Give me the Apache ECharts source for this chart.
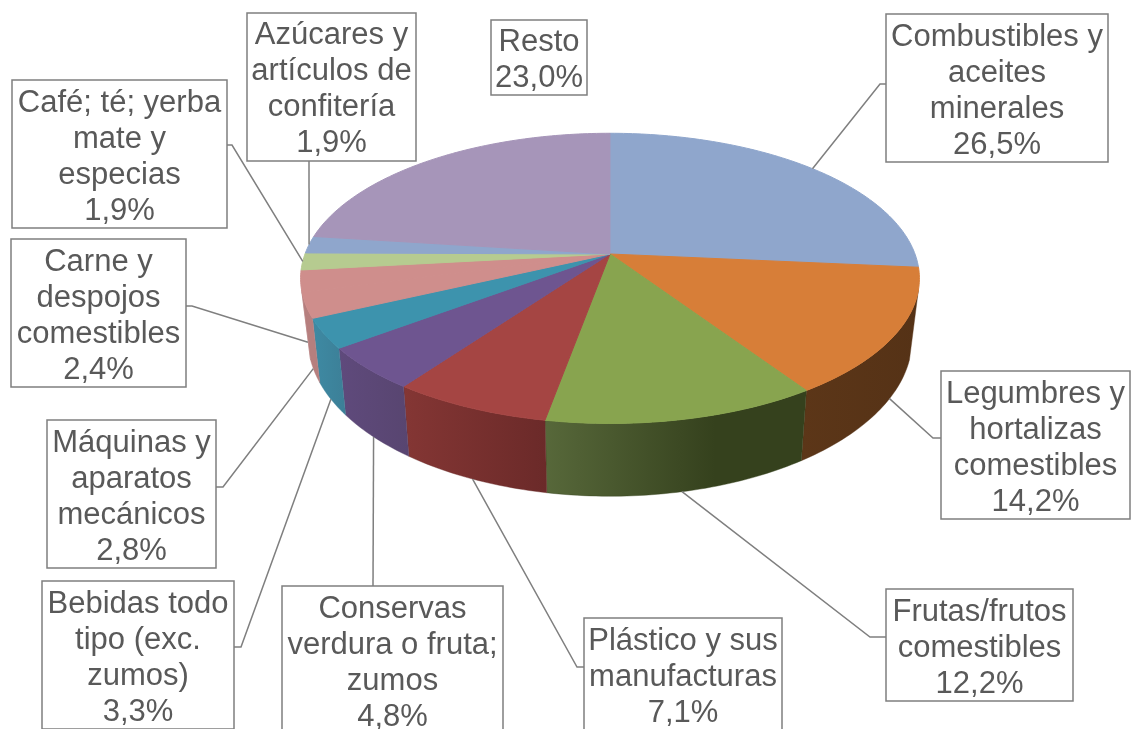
<!DOCTYPE html>
<html>
<head>
<meta charset="utf-8">
<title>Exportaciones</title>
<script src="https://cdn.jsdelivr.net/npm/echarts@6/dist/echarts.min.js"></script>
<style>
  html, body { margin: 0; padding: 0; background: #fff; overflow: hidden; }
  #box { width: 1131px; height: 729px; }
</style>
</head>
<body>
<div id="box"></div>
<script>
// datos: porcentaje por capitulo, en sentido horario desde las 12
const categories = [
  'Combustibles y\naceites\nminerales',
  'Legumbres y\nhortalizas\ncomestibles',
  'Frutas/frutos\ncomestibles',
  'Plástico y sus\nmanufacturas',
  'Conservas\nverdura o fruta;\nzumos',
  'Bebidas todo\ntipo (exc.\nzumos)',
  'Máquinas y\naparatos\nmecánicos',
  'Carne y\ndespojos\ncomestibles',
  'Café; té; yerba\nmate y\nespecias',
  'Azúcares y\nartículos de\nconfitería',
  'Resto'
];
const values = [26.5, 14.2, 12.2, 7.1, 4.8, 3.3, 2.8, 2.4, 1.9, 1.9, 23.0];

// colores
const topColors = ['#8fa6cc', '#d77e38', '#88a44f', '#a54543', '#6e5590', '#3d93ad',
  '#cf8e8c', '#cf8e8c', '#b6cb90', '#8fa6cc', '#a695b9'];
const wallColors = [
  ['#5f7396', '#5f7396'], ['#5c3618', '#553216'], ['#57683a', '#35411d'], ['#843634', '#6b2a29'],
  ['#5f4a7c', '#584570'], ['#3e8aa3', '#3c7f97'], ['#b67f7e', '#b67f7e'], ['#b67f7e', '#b67f7e'],
  ['#8a9c6c', '#8a9c6c'], ['#6a7d9c', '#6a7d9c'], ['#7a6c8c', '#7a6c8c']
];

// cajas de etiquetas [x, y, ancho, alto]
const labelBoxes = [
  [886, 14, 222, 148], [941, 371, 189, 148], [886, 589, 187, 112], [584, 618, 198, 112],
  [282, 586, 221, 148], [42, 581, 192, 148], [47, 420, 169, 148], [11, 239, 175, 148],
  [12, 80, 215, 148], [247, 13, 169, 148], [491, 20, 96, 75]
];
const textOffsets = [3.5, 3.5, 3.5, 3.5, 3.5, 3.5, 3.5, 3.5, 3, 2, 2];
// guia: punto de quiebre [x, y], salida de la caja [x, y] y plano donde termina
const leaderElbows = [
  [880, 84], [933, 438], [870, 637], [577, 667], [373, 586], [241, 647],
  [223, 487], [192, 306], [232, 145], [309, 160], null
];
const leaderStarts = [
  [886, 84], [941, 438], [886, 637], [584, 667], [373, 586], [234, 647],
  [216, 487], [186, 306], [227, 145], [309, 160], null
];
const leaderPlanes = ['top', 'bottom', 'bottom', 'bottom', 'bottom', 'bottom', 'bottom', 'bottom', 'top', 'top', null];

// planos de la tarta en perspectiva
const topPlane = { cx: 610, cy: 254, r: 305, b: 141, k: 0.168 };
const bottomPlane = { cx: 610, cy: 313, r: 298, b: 153, k: 0.165 };
// tramo visible del lateral en cada plano (grados)
const topVisible = [104, 256];
const bottomVisible = [107, 253];

const total = values.reduce((a, b) => a + b, 0);
const starts = [];
values.reduce((acc, v, i) => { starts[i] = acc; return acc + v; }, 0);

const project = (plane, deg) => {
  const a = deg * Math.PI / 180;
  const u = Math.sin(a);
  const v = -Math.cos(a);
  const d = 1 - plane.k * v;
  return [plane.cx + plane.r * u / d, plane.cy + plane.b * v / d];
};

const arc = (plane, from, to) => {
  const pts = [];
  const n = Math.max(2, Math.ceil(to - from));
  for (let i = 0; i <= n; i++) {
    pts.push(project(plane, from + (to - from) * i / n));
  }
  return pts;
};

const sliceAngles = (i) => {
  const from = starts[i] / total * 360;
  return [from, from + values[i] / total * 360];
};

const clampTo = (deg, range) => Math.min(range[1], Math.max(range[0], deg));

const renderWall = (params) => {
  const i = params.dataIndex;
  const [from, to] = sliceAngles(i);
  // las porciones de atras no tienen lateral visible
  if (from >= topVisible[1] || to <= topVisible[0]) return null;
  const topArc = arc(topPlane, clampTo(from, topVisible), clampTo(to, topVisible));
  const bottomArc = arc(bottomPlane, clampTo(from, bottomVisible), clampTo(to, bottomVisible));
  const fill = new echarts.graphic.LinearGradient(0, 0, 1, 0, [
    { offset: 0, color: wallColors[i][0] },
    { offset: i === 2 ? 0.65 : 1, color: wallColors[i][1] },
    { offset: 1, color: wallColors[i][1] }
  ]);
  return {
    type: 'polygon',
    shape: { points: topArc.concat(bottomArc.reverse()) },
    style: { fill: fill, stroke: wallColors[i][1], lineWidth: 0.4 }
  };
};

const renderTop = (params) => {
  const i = params.dataIndex;
  const [from, to] = sliceAngles(i);
  const pts = [[topPlane.cx, topPlane.cy]].concat(arc(topPlane, from, to));
  return {
    type: 'polygon',
    shape: { points: pts },
    style: { fill: topColors[i], stroke: topColors[i], lineWidth: 1, lineJoin: 'round' }
  };
};

const renderLabel = (params) => {
  const i = params.dataIndex;
  const [x, y, w, h] = labelBoxes[i];
  const lines = categories[i].split('\n').length + 1;
  const children = [];
  if (leaderElbows[i]) {
    const [from, to] = sliceAngles(i);
    const end = project(leaderPlanes[i] === 'top' ? topPlane : bottomPlane, (from + to) / 2);
    children.push({
      type: 'polyline',
      shape: { points: [leaderStarts[i], leaderElbows[i], end] },
      style: { fill: null, stroke: '#7f7f7f', lineWidth: 1.5 }
    });
  }
  children.push({
    type: 'rect',
    shape: { x: x, y: y, width: w, height: h },
    style: { fill: '#fff', stroke: '#7f7f7f', lineWidth: 1.5 }
  });
  children.push({
    type: 'text',
    style: {
      x: x + w / 2,
      y: y + 2 + textOffsets[i] + lines * 18,
      text: categories[i] + '\n' + values[i].toFixed(1).replace('.', ',') + '%',
      align: 'center',
      verticalAlign: 'middle',
      fontFamily: '"Liberation Sans", Arial, sans-serif',
      fontSize: 31,
      lineHeight: 36,
      fill: '#595959'
    }
  });
  return { type: 'group', children: children };
};

const myChart = echarts.init(document.getElementById('box'), null, { renderer: 'canvas' });
const option = {
  animation: false,
  backgroundColor: '#fff',
  tooltip: { show: false },
  series: [
    { type: 'custom', coordinateSystem: 'none', z: 1, silent: true, data: values, renderItem: renderWall },
    { type: 'custom', coordinateSystem: 'none', z: 2, silent: true, data: values, renderItem: renderTop },
    { type: 'custom', coordinateSystem: 'none', z: 3, silent: true, clip: false, data: values, renderItem: renderLabel }
  ]
};
myChart.setOption(option);
</script>
</body>
</html>
